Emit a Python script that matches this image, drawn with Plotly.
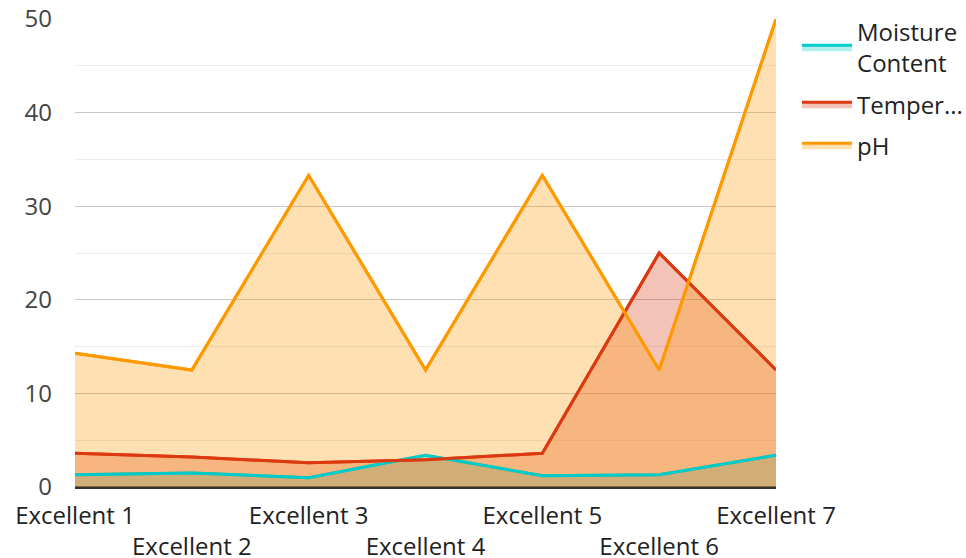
import plotly.graph_objects as go

categories = ["Excellent 1", "Excellent 2", "Excellent 3", "Excellent 4", "Excellent 5", "Excellent 6", "Excellent 7"]
tick_labels = ["Excellent 1", "<br>Excellent 2", "Excellent 3", "<br>Excellent 4", "Excellent 5", "<br>Excellent 6", "Excellent 7"]
moisture = [1.3, 1.5, 1.0, 3.4, 1.2, 1.3, 3.4]
temperature = [3.6, 3.2, 2.6, 2.9, 3.6, 25.0, 12.5]
ph = [14.3, 12.5, 33.3, 12.5, 33.3, 12.5, 50.0]

series = [
    ("Moisture<br>Content", moisture, "#00cccc", "rgba(0,204,204,0.3)"),
    ("Temper...", temperature, "#dc3912", "rgba(220,57,18,0.3)"),
    ("pH", ph, "#ff9900", "rgba(255,153,0,0.3)"),
]

xs = list(range(len(categories)))
fig = go.Figure()
# filled areas first (these carry the legend entries)
for i, (name, vals, col, fcol) in enumerate(series):
    fig.add_trace(go.Scatter(
        x=xs, y=vals, name=name, mode="lines", legendgroup=f"g{i}",
        line=dict(color=col, width=3), fill="tozeroy", fillcolor=fcol,
        hoverinfo="skip",
    ))
# lines drawn on top of all fills
for i, (name, vals, col, fcol) in enumerate(series):
    fig.add_trace(go.Scatter(
        x=xs, y=vals, name=name, mode="lines", legendgroup=f"g{i}",
        line=dict(color=col, width=3), showlegend=False,
    ))

fig.update_layout(
    width=966, height=558,
    margin=dict(l=75, r=190, t=19, b=71, autoexpand=False),
    paper_bgcolor="white", plot_bgcolor="white",
    font=dict(family="Open Sans", size=24, color="#444"),
    showlegend=True,
    legend=dict(x=1.03, y=1.02, xanchor="left", yanchor="top", itemwidth=50,
                font=dict(size=24, color="#222"), tracegroupgap=7,
                traceorder="grouped"),
    xaxis=dict(
        tickmode="array", tickvals=xs, ticktext=tick_labels, tickangle=0,
        range=[0, 6], showgrid=False, zeroline=False, showline=False,
        ticks="", tickfont=dict(size=24, color="#222"), automargin=False,
        ticklabelstandoff=12,
    ),
    yaxis=dict(
        range=[0, 50], dtick=10, showgrid=True, gridcolor="#c8c8c8", gridwidth=1,
        zeroline=True, zerolinecolor="#333", zerolinewidth=3,
        minor=dict(dtick=5, showgrid=True, gridcolor="#ebebeb", gridwidth=1),
        tickfont=dict(size=24, color="#444"), ticks="", ticklabelstandoff=22,
        automargin=False,
    ),
)

fig.write_html("out.html")
